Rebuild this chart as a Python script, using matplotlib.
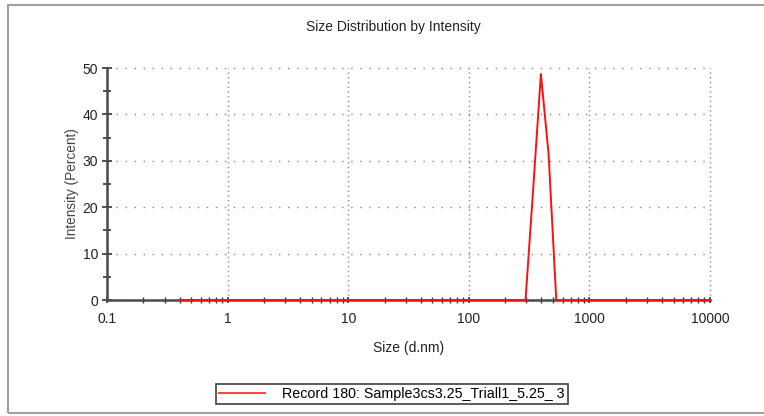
import matplotlib
matplotlib.use("Agg")
import matplotlib.pyplot as plt
from matplotlib.patches import Rectangle
from matplotlib.ticker import LogLocator, FixedLocator, NullFormatter
import numpy as np

plt.rcParams['font.family'] = ['Liberation Sans', 'DejaVu Sans']
plt.rcParams['lines.scale_dashes'] = False

# 70 size bins (d.nm) as used by the instrument, 0.4 nm .. 10000 nm
n_bins = 70
size_nm = 0.4 * (10000 / 0.4) ** (np.arange(n_bins) / (n_bins - 1))
intensity = np.zeros(n_bins)
peak_bins = [45, 46, 47, 48, 49]
peak_values = [0.0, 24.0, 48.7, 31.5, 0.0]
intensity[peak_bins] = peak_values

x_ticks = [0.1, 1, 10, 100, 1000, 10000]
x_labels = ["0.1", "1", "10", "100", "1000", "10000"]
y_ticks = [0, 10, 20, 30, 40, 50]
record_label = "Record 180: Sample3cs3.25_Triall1_5.25_ 3"

W, H = 764, 416
fig = plt.figure(figsize=(W / 100, H / 100), dpi=100)

# outer frame
fig.patches.append(Rectangle((8 / W, 3 / H), 1.2, (411 - 3) / H, transform=fig.transFigure,
                             fill=False, edgecolor="#a0a0a0", linewidth=1.5))

ax = fig.add_axes([107 / W, (H - 300) / H, 603 / W, 232 / H])
ax.plot(size_nm, intensity, color="#ff1010", linewidth=1.4, zorder=5, clip_on=False)

ax.set_xscale("log")
ax.set_xlim(0.1, 10000)
ax.set_ylim(0, 50)
ax.xaxis.set_major_locator(FixedLocator(x_ticks))
ax.set_xticklabels(x_labels)
ax.xaxis.set_minor_locator(LogLocator(base=10, subs=np.arange(2, 10)))
ax.xaxis.set_minor_formatter(NullFormatter())
ax.set_yticks(y_ticks)
ax.set_yticks([5, 15, 25, 35, 45], minor=True)

for s in ["top", "right"]:
    ax.spines[s].set_visible(False)
for s in ["left", "bottom"]:
    ax.spines[s].set_linewidth(1.8)
    ax.spines[s].set_color("#4a4a4a")
    ax.spines[s].set_zorder(4)

ax.tick_params(which="both", direction="inout", color="#333333", width=1.2,
               labelsize=10, labelcolor="#222222")
ax.tick_params(axis="y", which="major", length=7, pad=3)
ax.tick_params(axis="y", which="minor", length=6)
ax.tick_params(axis="x", which="major", length=5, pad=6)
ax.tick_params(axis="x", which="minor", length=4.5, width=1.0)

ax.yaxis.grid(True, which="major", color="#888888", linewidth=1.0,
              linestyle=(0, (1.0, 5.5)))
ax.xaxis.grid(True, which="major", color="#888888", linewidth=1.0,
              linestyle=(0, (1.0, 2.4)))
for gl in ax.get_xgridlines() + ax.get_ygridlines():
    gl.set_clip_on(False)

ax.set_xlabel("Size (d.nm)", fontsize=10, color="#222222")
ax.set_ylabel("Intensity (Percent)", fontsize=9.8, color="#444444")
ax.xaxis.set_label_coords(0.5, -0.177)
ax.yaxis.set_label_coords(-0.047, 0.5)
fig.text(393 / W, 1 - 27 / H, "Size Distribution by Intensity", ha="center", va="center",
         fontsize=10, color="#222222")

leg = fig.legend(ax.get_lines(), [record_label], loc="center",
                 bbox_to_anchor=(392 / W, 1 - 394 / H), fontsize=10.3, frameon=True,
                 fancybox=False, handlelength=3.2, handletextpad=1.2,
                 borderpad=0.2, borderaxespad=0)
leg.get_frame().set_edgecolor("#111111")
leg.get_frame().set_linewidth(1.2)
leg.get_lines()[0].set_color("#ff4040")

fig.savefig("out.png", dpi=100)
